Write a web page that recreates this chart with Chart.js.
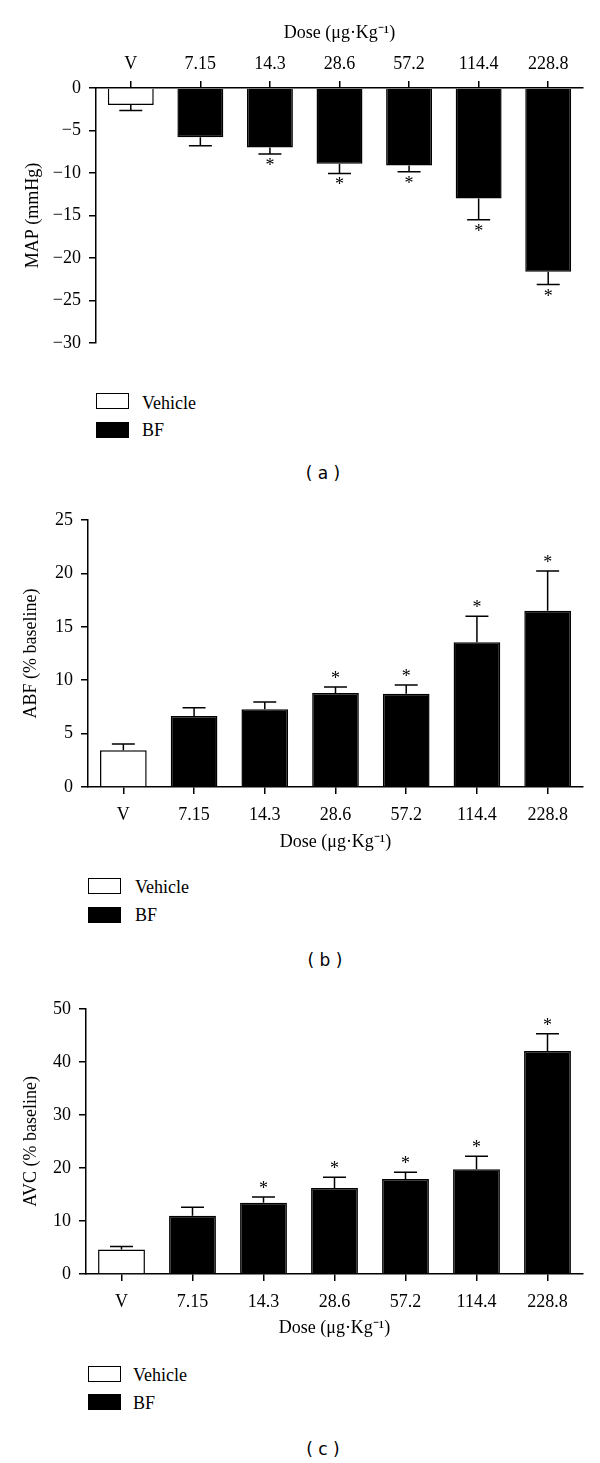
<!DOCTYPE html>
<html>
<head>
<meta charset="utf-8">
<script src="https://cdn.jsdelivr.net/npm/chart.js@4.4.1/dist/chart.umd.min.js"></script>
<style>
  body { margin: 0; background: #fff; }
  #page { position: relative; width: 600px; height: 1463px; overflow: hidden; background: #fff; }
  canvas { position: absolute; left: 0; }
  .box { position: absolute; width: 33px; height: 16px; box-sizing: border-box; border: 1.5px solid #000; }
  .lbl { position: absolute; font-family: "Liberation Serif", serif; font-size: 18px; line-height: 20px; color: #000; white-space: nowrap; }
  .cap { position: absolute; width: 80px; margin-left: -40px; text-align: center; font-family: "DejaVu Sans", sans-serif; font-size: 17px; line-height: 20px; color: #000; }
</style>
</head>
<body>
<div id="page">
  <canvas id="chartA" width="600" height="362" style="top:0px"></canvas>
  <canvas id="chartB" width="600" height="360" style="top:500px"></canvas>
  <canvas id="chartC" width="600" height="360" style="top:990px"></canvas>

  <div class="box" style="left:96px;top:393px;background:#fff"></div><div class="lbl" style="left:142px;top:393px">Vehicle</div>
  <div class="box" style="left:96px;top:422px;background:#000"></div><div class="lbl" style="left:142px;top:420px">BF</div>
  <div class="cap" style="left:323px;top:463px">( a )</div>

  <div class="box" style="left:88px;top:878px;background:#fff"></div><div class="lbl" style="left:135px;top:877px">Vehicle</div>
  <div class="box" style="left:88px;top:907px;background:#000"></div><div class="lbl" style="left:135px;top:905px">BF</div>
  <div class="cap" style="left:325px;top:950px">( b )</div>

  <div class="box" style="left:88px;top:1366px;background:#fff"></div><div class="lbl" style="left:133px;top:1365px">Vehicle</div>
  <div class="box" style="left:88px;top:1394px;background:#000"></div><div class="lbl" style="left:133px;top:1393px">BF</div>
  <div class="cap" style="left:323px;top:1439px">( c )</div>
</div>
<script>
// doses (µg/kg), V = vehicle
const doseLabels = ["V", "7.15", "14.3", "28.6", "57.2", "114.4", "228.8"]

// (a) change in MAP, mmHg
const mapMean = [-2.0, -5.8, -7.0, -8.9, -9.1, -13.0, -21.6]
const mapSem  = [0.65, 1.0, 0.75, 1.15, 0.75, 2.5, 1.5]
const mapStar = [false, false, true, true, true, true, true]

// (b) ABF, % baseline
const abfMean = [3.43, 6.65, 7.27, 8.8, 8.74, 13.55, 16.5]
const abfSem  = [0.6, 0.78, 0.69, 0.56, 0.81, 2.43, 3.72]
const abfStar = [false, false, false, true, true, true, true]

// (c) AVC, % baseline
const avcMean = [4.63, 11.0, 13.44, 16.2, 17.9, 19.75, 42.06]
const avcSem  = [0.56, 1.6, 1.06, 2.05, 1.3, 2.45, 3.24]
const avcStar = [false, false, true, true, true, true, true]

const barColors = ["#fff", "#000", "#000", "#000", "#000", "#000", "#000"]
const serif = { family: "'Liberation Serif', serif", size: 18 }

// error bars + significance stars
const errorBars = {
  id: 'errorBars',
  afterDatasetsDraw(chart) {
    const ctx = chart.ctx
    const yScale = chart.scales.y
    const ds = chart.data.datasets[0]
    const meta = chart.getDatasetMeta(0)
    ctx.save()
    ctx.strokeStyle = '#000'
    ctx.fillStyle = '#000'
    ctx.lineWidth = 1.5
    ctx.font = "18px 'Liberation Serif', serif"
    ctx.textAlign = 'center'
    ctx.textBaseline = 'alphabetic'
    meta.data.forEach((bar, i) => {
      const v = ds.data[i]
      const tip = v < 0 ? v - ds.sem[i] : v + ds.sem[i]
      const y0 = yScale.getPixelForValue(v)
      const y1 = yScale.getPixelForValue(tip)
      ctx.beginPath()
      ctx.moveTo(bar.x, y0)
      ctx.lineTo(bar.x, y1)
      ctx.moveTo(bar.x - 11.5, y1)
      ctx.lineTo(bar.x + 11.5, y1)
      ctx.stroke()
      if (ds.star[i]) {
        // glyph centre sits ~8.5px above the baseline
        const cy = v < 0 ? y1 + 8.5 : y1 - 11.5
        ctx.fillText('*', bar.x, cy + 8.5)
      }
    })
    ctx.restore()
  }
}

function makeChart(id, p) {
  return new Chart(document.getElementById(id), {
    type: 'bar',
    data: {
      labels: doseLabels,
      datasets: [{
        data: p.mean,
        sem: p.sem,
        star: p.star,
        backgroundColor: barColors,
        borderColor: '#000',
        borderWidth: 1.5,
        categoryPercentage: 1,
        barPercentage: 0.66
      }]
    },
    options: {
      responsive: false,
      animation: false,
      layout: { padding: p.padding },
      plugins: { legend: { display: false }, tooltip: { enabled: false } },
      scales: {
        x: {
          position: p.xPos,
          grid: { display: true, drawOnChartArea: false, drawTicks: true, tickLength: 7, color: '#000', lineWidth: 1.5, offset: false },
          border: { display: true, color: '#000', width: 1.5 },
          ticks: { color: '#000', font: serif, padding: p.xTickPad, autoSkip: false, maxRotation: 0 },
          title: { display: true, text: 'Dose (\u03bcg\u00b7Kg\u207b\u00b9)', color: '#000', font: serif, padding: p.xTitlePad },
          afterFit: s => { s.height = p.xHeight }
        },
        y: {
          min: p.min,
          max: p.max,
          grid: { display: true, drawOnChartArea: false, drawTicks: true, tickLength: 7, color: '#000', lineWidth: 1.5 },
          border: { display: true, color: '#000', width: 1.5 },
          ticks: { color: '#000', font: serif, padding: 8, stepSize: p.step, callback: v => String(v).replace('-', '\u2212') },
          title: { display: true, text: p.yTitle, color: '#000', font: serif, padding: { top: p.yTitleTop, bottom: 0 } },
          afterFit: s => { s.width = p.yWidth }
        }
      }
    },
    plugins: [errorBars]
  })
}

makeChart('chartA', {
  mean: mapMean, sem: mapSem, star: mapStar,
  min: -30, max: 0, step: 5, yTitle: 'MAP (mmHg)',
  xPos: 'top', xHeight: 88, xTickPad: 6, xTitlePad: { top: 22, bottom: 0 },
  yWidth: 96, yTitleTop: 22,
  padding: { left: 0, right: 17, top: 0, bottom: 12 }
})

makeChart('chartB', {
  mean: abfMean, sem: abfSem, star: abfStar,
  min: 0, max: 25, step: 5, yTitle: 'ABF (% baseline)',
  xPos: 'bottom', xHeight: 73, xTickPad: 10, xTitlePad: { top: 0, bottom: 7 },
  yWidth: 88, yTitleTop: 20,
  padding: { left: 0, right: 17, top: 20, bottom: 0 }
})

makeChart('chartC', {
  mean: avcMean, sem: avcSem, star: avcStar,
  min: 0, max: 50, step: 10, yTitle: 'AVC (% baseline)',
  xPos: 'bottom', xHeight: 76, xTickPad: 10, xTitlePad: { top: 0, bottom: 11 },
  yWidth: 86, yTitleTop: 20,
  padding: { left: 0, right: 17, top: 17, bottom: 0 }
})
</script>
</body>
</html>
